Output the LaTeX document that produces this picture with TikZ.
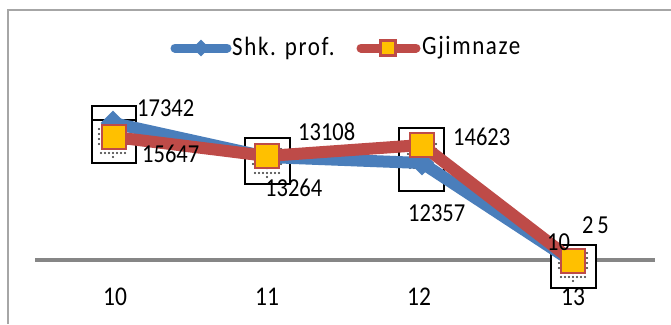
\documentclass[tikz,border=0pt]{standalone}
\usepackage{fontspec}
\usepackage{graphicx}
\setmainfont{Carlito}
\definecolor{sblue}{HTML}{4A7EBB}
\definecolor{sred}{HTML}{BE4B48}
\definecolor{sorange}{HTML}{FFC000}
\definecolor{frame}{HTML}{A6A6A6}
\definecolor{axisgray}{HTML}{868686}
\newcommand{\stretchtxt}[1]{\scalebox{1}[1.15]{#1}}
\tikzset{
  lbl/.style={font=\fontsize{22.5}{26}\selectfont, inner sep=0pt, anchor=west},
  cat/.style={font=\fontsize{23.5}{27}\selectfont, inner sep=0pt},
  leg/.style={font=\fontsize{23}{27}\selectfont\addfontfeature{LetterSpace=7}, inner sep=0pt, anchor=west},
  ghost/.style={draw=black, line width=2pt, fill=white},
  bline/.style={draw=sblue, line width=12pt, line join=round},
  rline/.style={draw=sred, line width=12pt, line join=round},
  sq/.style={draw=sred, line width=2pt, fill=sorange, minimum size=24pt, inner sep=0pt, rectangle},
  dia/.style={fill=sblue, diamond, minimum size=25pt, inner sep=0pt},
  dotc/.style={fill=black!80, circle, inner sep=0pt, minimum size=2.2pt}
}
\usetikzlibrary{shapes.geometric}
\begin{document}
\begin{tikzpicture}[x=1pt,y=-1pt]
\useasboundingbox (0,0) rectangle (671,324);
\fill[white] (0,0) rectangle (671,324);
% frame
\draw[frame, line width=2pt] (8,324) -- (8,9.5) -- (671,9.5);
% axis
\coordinate (axl) at (35,260);
\coordinate (axr) at (655,260);
\draw[axisgray, line width=3.5pt] (axl) -- (axr);
% ghost boxes
\draw[ghost] (92,106) rectangle (136,163);
\draw[black, line width=1.5pt] (92,120) -- (136,120);
\draw[ghost] (245,138) rectangle (290,184);
\draw[ghost] (399,128) rectangle (444,191);
\draw[ghost] (551,245) rectangle (596,288);
% dots inside boxes
\foreach \bx/\by in {113/137, 267/157, 422/152, 573/261}{
  \foreach \dy in {-8,-3,2,7} \node[dotc] at (\bx-14,\by+\dy) {};
  \foreach \dy in {-8,-3,2,7} \node[dotc] at (\bx+14,\by+\dy) {};
  \foreach \dx in {-12,-8,-4,0,4,8,12} \node[dotc] at (\bx+\dx,\by+16) {};
  \node[dotc] at (\bx,\by+20) {};
}
% blue series
\coordinate (b1) at (113,123);
\coordinate (b2) at (267,157);
\coordinate (b3) at (422,163);
\coordinate (b4) at (573,262);
\draw[bline] (b1) -- (b2) -- (b3) -- (b4);
\node[dia] (bm1) at (b1) {};
\node[dia] (bm2) at (b2) {};
\node[dia] (bm3) at (b3) {};
\node[dia] (bm4) at (b4) {};
% red series
\coordinate (r1) at (114,137);
\coordinate (r2) at (267,156);
\coordinate (r3) at (422,145);
\coordinate (r4) at (573,261);
\draw[rline] (r1) -- (r2) -- (r3) -- (r4);
\node[sq] (rm1) at (r1) {};
\node[sq] (rm2) at (r2) {};
\node[sq] (rm3) at (r3) {};
\node[sq] (rm4) at (r4) {};
% data labels
\node[lbl] (l1) at (137,108) {\stretchtxt{17342}};
\node[lbl] (l2) at (142,154) {\stretchtxt{15647}};
\node[lbl] (l3) at (298,132) {\stretchtxt{13108}};
\node[lbl] (l4) at (265,188) {\stretchtxt{13264}};
\node[lbl] (l5) at (453,137) {\stretchtxt{14623}};
\node[lbl] (l6) at (408,213) {\stretchtxt{12357}};
\node[lbl] (l7) at (547,242) {\stretchtxt{10}};
\node[lbl] (l8) at (582,225) {\stretchtxt{2\,5}};
% categories
\node[cat] (c1) at (115,297) {\stretchtxt{10}};
\node[cat] (c2) at (267,297) {\stretchtxt{11}};
\node[cat] (c3) at (419,297) {\stretchtxt{12}};
\node[cat] (c4) at (573,297) {\stretchtxt{13}};
% legend
\coordinate (lb1) at (175,48);
\coordinate (lb2) at (227,48);
\draw[sblue, line width=9pt, line cap=round] (lb1) -- (lb2);
\node[fill=sblue, diamond, minimum size=17pt, inner sep=0pt] (lbm) at (201,48) {};
\node[leg] (lt1) at (232,48) {\stretchtxt{Shk. prof.}};
\coordinate (lr1) at (361,48);
\coordinate (lr2) at (416,48);
\draw[sred, line width=9pt, line cap=round] (lr1) -- (lr2);
\node[draw=sred, line width=3pt, fill=sorange, minimum size=15pt, inner sep=0pt] (lrm) at (388,48) {};
\node[leg] (lt2) at (422,48) {\stretchtxt{Gjimnaze}};
\end{tikzpicture}
\end{document}
